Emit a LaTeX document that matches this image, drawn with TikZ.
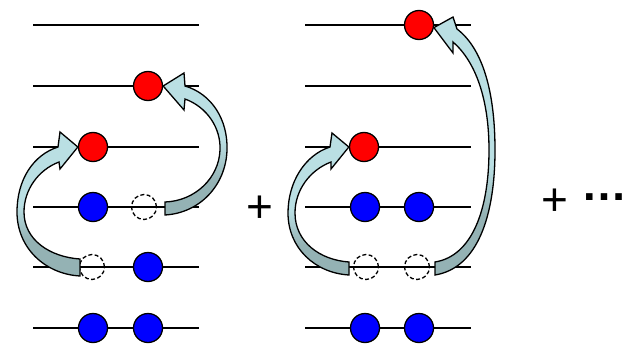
\documentclass[tikz,border=0pt]{standalone}
\usepackage{fontspec}
\setmainfont{Liberation Sans}
\definecolor{headc}{RGB}{186,223,227}
\definecolor{tailc}{RGB}{148,178,180}
\tikzset{
  level/.style={line width=1.4pt},
  ball/.style={circle, draw, line width=1.3pt, minimum size=29pt, inner sep=0pt},
  redball/.style={ball, fill=red},
  blueball/.style={ball, fill=blue},
  hole/.style={circle, draw, line width=1.3pt, dash pattern=on 4pt off 2.4pt, minimum size=25pt, inner sep=0pt},
  arrowline/.style={draw, line width=1.3pt},
  plus/.style={inner sep=0pt, font=\fontsize{46}{46}\selectfont}
}
\newcommand\shadearrow[3]{%
  \begin{scope}
    \clip #1;
    \fill[headc] (0,0) rectangle (623,#2+0.5);
    \shade[top color=headc,bottom color=tailc] (0,#2) rectangle (623,#3);
    \fill[tailc] (0,#3-0.5) rectangle (623,345);
  \end{scope}
  \draw[arrowline] #1;
}
\begin{document}
\begin{tikzpicture}[x=1pt,y=-1pt]
\useasboundingbox (0,0) rectangle (623,345);
% level lines
\foreach \y in {25,86,147,207,267,328}{
  \draw[level] (33,\y) -- (199,\y);
  \draw[level] (305,\y) -- (471,\y);
}
% left panel
\node[redball]  (L2r) at (148,86)  {};
\node[redball]  (L3r) at (93,147)  {};
\node[blueball] (L4a) at (93,207)  {};
\node[hole]     (L4h) at (144,207) {};
\node[hole]     (L5h) at (92,267)  {};
\node[blueball] (L5b) at (148,267) {};
\node[blueball] (L6a) at (93,328)  {};
\node[blueball] (L6b) at (148,328) {};
% right panel
\node[redball]  (R1r) at (419,25)  {};
\node[redball]  (R3r) at (364,147) {};
\node[blueball] (R4a) at (365,207) {};
\node[blueball] (R4b) at (419,207) {};
\node[hole]     (R5a) at (366,267) {};
\node[hole]     (R5b) at (417,267) {};
\node[blueball] (R6a) at (365,328) {};
\node[blueball] (R6b) at (419,328) {};
% block arrows
\def\arrA{(80,259) -- (80,276) .. controls (45,274) and (17,248) .. (17,212) .. controls (17,180) and (33,155) .. (58,147) -- (60,132) -- (L3r.west) -- (60,169) -- (59,162) .. controls (38,170) and (24,190) .. (24,212) .. controls (24,240) and (50,257) .. (80,259) -- cycle}
\def\arrB{(165,202) -- (165,215) .. controls (200,213) and (226,185) .. (227,150) .. controls (228,120) and (212,94) .. (185,86) -- (184,73) -- (L2r.east) -- (184,110) -- (185,99) .. controls (207,107) and (221,128) .. (220,150) .. controls (219,178) and (195,201) .. (165,202) -- cycle}
\def\arrC{(349,262) -- (349,275) .. controls (315,273) and (288,248) .. (288,213) .. controls (288,182) and (305,155) .. (330,147) -- (332,133) -- (R3r.west) -- (331,169) -- (331,162) .. controls (310,170) and (295,190) .. (295,213) .. controls (295,242) and (320,260) .. (349,262) -- cycle}
\def\arrD{(435,262) -- (435,275) .. controls (478,268) and (495,215) .. (495,150) .. controls (495,90) and (482,48) .. (457,29) -- (453,17) -- (R1r.-10) -- (453,53) -- (453,42) .. controls (476,62) and (489,100) .. (489,150) .. controls (489,210) and (472,256) .. (435,262) -- cycle}
\shadearrow{\arrA}{205}{240}
\shadearrow{\arrB}{140}{182}
\shadearrow{\arrC}{210}{245}
\shadearrow{\arrD}{165}{215}
% plus signs
\node[plus, anchor=base] (p1) at (260,222.5) {+};
\node[plus, anchor=base west] (p2) at (541.6,215.5) {+ \raisebox{0.33em}{\bfseries …}};
\end{tikzpicture}
\end{document}
